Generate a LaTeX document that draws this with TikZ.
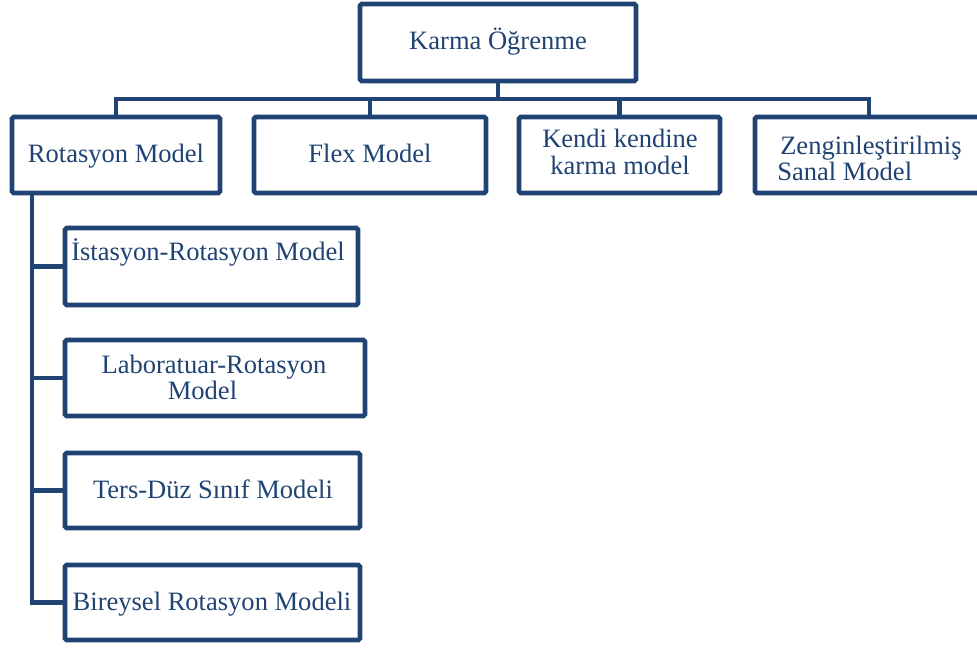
\documentclass[tikz,border=0pt]{standalone}
\usepackage{fontspec}
\setmainfont{Liberation Serif}
\definecolor{navy}{HTML}{1F4372}
\begin{document}
\begin{tikzpicture}[x=0.75pt,y=-0.75pt,
  box/.style={draw=navy,line width=3.4pt,rounded corners=1.2pt,fill=white,inner sep=0pt,outer sep=0pt,rectangle},
  lbl/.style={text=navy,font=\fontsize{19.9}{20}\selectfont,inner sep=0pt,anchor=base},
  lblw/.style={lbl,anchor=base west},
  con/.style={draw=navy,line width=3.4pt,line join=miter}]
\useasboundingbox (0,0) rectangle (977,648);
\clip (0,0) rectangle (977,648);
% boxes
\node[box,minimum width=276*0.75pt,minimum height=77*0.75pt] (top) at (498,42.5) {};
\node[box,minimum width=208*0.75pt,minimum height=76*0.75pt] (rot) at (116,155) {};
\node[box,minimum width=232*0.75pt,minimum height=76*0.75pt] (flex) at (370,155) {};
\node[box,minimum width=201*0.75pt,minimum height=76*0.75pt] (kendi) at (619.5,155) {};
\node[box,minimum width=228*0.75pt,minimum height=76*0.75pt] (zen) at (869,155) {};
\node[box,minimum width=293*0.75pt,minimum height=77*0.75pt] (ist) at (211.5,266.5) {};
\node[box,minimum width=300*0.75pt,minimum height=76*0.75pt] (lab) at (215,378) {};
\node[box,minimum width=295*0.75pt,minimum height=75*0.75pt] (ters) at (212.5,490.5) {};
\node[box,minimum width=295*0.75pt,minimum height=75*0.75pt] (bir) at (212.5,602.5) {};
% texts
\node[lbl] (topt) at (498,50) {Karma Öğrenme};
\node[lbl] (rott) at (116,163) {Rotasyon Model};
\node[lbl] (flext) at (370,163) {Flex Model};
\node[lbl] (kendit1) at (620,148) {Kendi kendine};
\node[lbl] (kendit2) at (620,175) {karma model};
\node[lblw] (zent1) at (780,155) {Zenginleştirilmiş};
\node[lblw] (zent2) at (777,181) {Sanal Model};
\node[lbl] (istt) at (208,261) {İstasyon-Rotasyon Model};
\node[lbl] (labt1) at (214,373) {Laboratuar-Rotasyon};
\node[lbl] (labt2) at (202.5,399) {Model};
\node[lbl] (terst) at (213,498) {Ters-Düz Sınıf Modeli};
\node[lbl] (birt) at (212,610) {Bireysel Rotasyon Modeli};
% connectors
\coordinate (bus) at (0,99);
\coordinate (trunk) at (32,0);
\draw[con] (top.south) -- (top.south |- bus);
\draw[con] (rot.north) -- (rot.north |- bus) -- (zen.north |- bus) -- (zen.north);
\draw[con] (flex.north) -- (flex.north |- bus);
\draw[con] (kendi.north) -- (kendi.north |- bus);
\draw[con] (trunk |- rot.south) -- (trunk |- bir.west) -- (bir.west);
\draw[con] (trunk |- ist.west) -- (ist.west);
\draw[con] (trunk |- lab.west) -- (lab.west);
\draw[con] (trunk |- ters.west) -- (ters.west);
\end{tikzpicture}
\end{document}
